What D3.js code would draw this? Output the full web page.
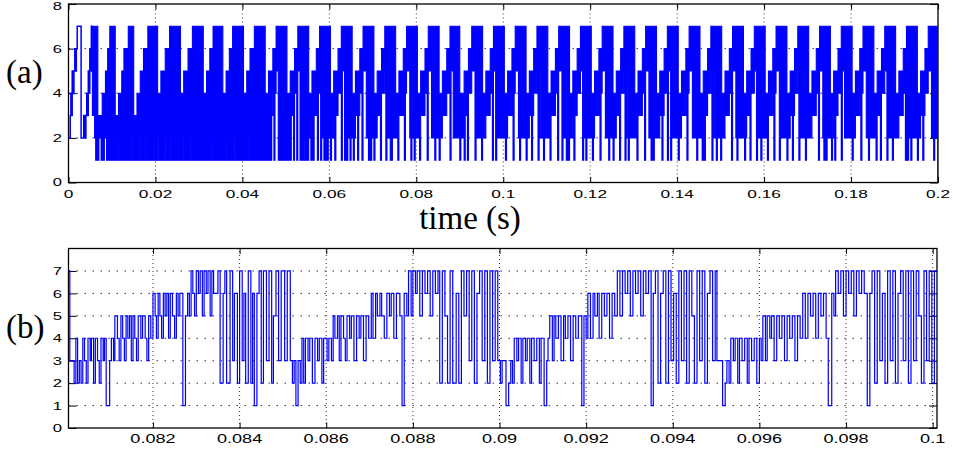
<!doctype html>
<html>
<head>
<meta charset="utf-8">
<script src="https://cdn.jsdelivr.net/npm/d3@7"></script>
<style>
  body { margin: 0; background: #fff; }
  svg { display: block; }
  .tl { font-family: "Liberation Sans", Arial, sans-serif; fill: #000; }
  .tex { font-family: "Liberation Serif", "DejaVu Serif", serif; fill: #000; }
</style>
</head>
<body>
<svg width="953" height="453"></svg>
<script>

// ---------- tick values ----------
var topXTicks = [0, 0.02, 0.04, 0.06, 0.08, 0.1, 0.12, 0.14, 0.16, 0.18, 0.2];
var topYTicks = [0, 2, 4, 6, 8];
var botXTicks = [0.082, 0.084, 0.086, 0.088, 0.09, 0.092, 0.094, 0.096, 0.098, 0.1];
var botYTicks = [0, 1, 2, 3, 4, 5, 6, 7];

// ---------- panel (a) ----------
// start-up, step signal [ms, level]
var topStart = [[0,2],[0.4,3],[0.55,4],[0.7,3],[0.85,5],[1.05,4],[1.25,5],[1.45,6],[1.65,5],[1.8,6],
  [2.0,7],[2.9,2],[3.5,3],[3.85,2],[4.0,3],[4.2,4],[4.4,3],[4.55,5],[4.75,4],[4.9,6],[5.1,5],[5.25,7],[5.5,7]];
// after start-up the trace is too dense to follow; read as upper / lower level
// per 5 ms period, one digit per 0.25 ms (0 = nothing drawn)
var topHi = [
  "00000000000000000000", "00777773333444556677", "77733344455666677777", "33344455566667777777",
  "77444555566667777777", "77744455556666777777", "77774445556667777777", "77444555666777777777",
  "74445556666777777777", "74445555666777777777", "74445555666777777777", "74445555666777777777",
  "74445555666777777777", "74445555666777777777", "74445555666777777777", "74445555666777777777",
  "74445555666777777777", "74445555666777777777", "44445555666777777777", "74445555666777777777",
  "74445555666777777777", "74445555666777777777", "74445555666777777777", "74445555666777777777",
  "74445555666777777777", "74445555666777777777", "74445555666777777777", "74445555666777777777",
  "74445555666777777777", "74445555666777777777", "74445555666777777777", "74445555666777777777",
  "74445555666777777777", "74445555666777777777", "74445555666777777777", "74445555666777777777",
  "74445555666777777777", "74445555666777777777", "74445555666777777777", "74445555666777777777"
];
var topLo = [
  "00000000000000000000", "00332121221212212121", "21212112121211212112", "12112112111211211121",
  "11121111211111211111", "11211121111211112111", "11111211111121111121", "11112111111112111111",
  "11111121111121111111", "12121313414551212121", "21121331441551212112", "12213133414515211212",
  "21223133444155121221", "22123313441555221212", "21223331444515221122", "22213333414555212212",
  "22213333441555222122", "21223333444155222222", "12221331444555122222", "12223333441551222222",
  "22123333414555212222", "21223313444515222122", "22213333441555122212", "12223133444551221222",
  "22123333414555222122", "21223331444515212222", "22213333441555221212", "22223313444155122222",
  "21223333414555222212", "22213133444515221222", "12223333441555212222", "22123331444551222122",
  "22213333414555122222", "21223313444515222212", "22223333441555212122", "22123133444155222222",
  "21223333414555221222", "22213331444551222212", "22223333441515212222", "21223313444555221222"
];
var topTail = [[199.9,2],[200,0]];

// ---------- panel (b) ----------
// step signal [ms, level]
var botSteps = [
  [80.00,7],[80.08,3],[80.18,2],[80.22,4],[80.26,2],[80.30,3],[80.34,2],[80.38,4],[80.42,3],[80.46,2],
  [80.50,4],[80.55,3],[80.58,4],[80.63,2],[80.67,4],[80.72,3],[80.76,2],[80.80,4],[80.85,3],[80.88,4],
  [80.92,1],[81.00,3],[81.04,4],[81.09,3],[81.12,5],[81.18,4],[81.22,3],[81.26,5],[81.30,4],[81.34,3],
  [81.38,5],[81.42,4],[81.46,5],[81.50,3],[81.54,5],[81.58,4],[81.62,3],[81.66,5],[81.72,4],[81.76,5],
  [81.82,4],[81.86,3],[81.90,5],[81.95,4],[82.00,6],[82.05,5],[82.08,4],[82.12,6],[82.16,5],[82.20,4],
  [82.24,6],[82.28,5],[82.32,6],[82.36,4],[82.40,6],[82.45,5],[82.50,4],[82.54,6],[82.58,5],[82.62,6],
  [82.69,1],[82.75,5],[82.80,6],[82.84,5],[82.88,7],[82.92,6],[82.96,5],[83.00,7],[83.05,6],[83.09,7],
  [83.14,5],[83.18,7],[83.23,6],[83.27,7],[83.32,5],[83.36,7],[83.40,6],[83.50,7],[83.55,2],[83.62,6],
  [83.66,7],[83.70,2],[83.78,7],[83.84,3],[83.88,6],[83.95,2],[84.00,7],[84.06,3],[84.10,6],[84.14,2],
  [84.20,7],[84.26,2],[84.30,6],[84.34,1],[84.40,6],[84.45,7],[84.50,2],[84.55,7],[84.62,3],[84.68,7],
  [84.74,2],[84.78,5],[84.84,7],[84.90,3],[84.96,7],[85.04,3],[85.10,7],[85.17,3],[85.22,2],[85.26,3],
  [85.30,1],[85.35,3],[85.40,2],[85.44,4],[85.48,2],[85.52,4],[85.58,3],[85.62,4],[85.68,2],[85.74,4],
  [85.80,3],[85.84,4],[85.90,2],[85.94,4],[86.02,3],[86.06,4],[86.12,3],[86.16,5],[86.20,4],[86.26,5],
  [86.30,3],[86.34,5],[86.40,4],[86.44,3],[86.48,5],[86.54,4],[86.58,5],[86.64,3],[86.70,5],[86.76,4],
  [86.80,5],[86.86,3],[86.92,5],[86.98,4],[87.04,6],[87.08,4],[87.14,6],[87.18,5],[87.24,6],[87.28,5],
  [87.34,4],[87.40,6],[87.46,5],[87.50,6],[87.56,4],[87.62,6],[87.70,5],[87.75,1],[87.80,6],[87.86,5],
  [87.90,7],[87.96,5],[88.00,7],[88.06,6],[88.10,7],[88.16,5],[88.22,7],[88.28,6],[88.34,7],[88.40,5],
  [88.46,7],[88.52,6],[88.58,7],[88.62,2],[88.68,7],[88.74,5],[88.80,2],[88.86,7],[88.92,2],[89.00,6],
  [89.06,2],[89.12,7],[89.18,5],[89.24,7],[89.30,3],[89.36,7],[89.42,2],[89.48,6],[89.54,7],[89.60,3],
  [89.66,7],[89.72,2],[89.78,7],[89.84,3],[89.90,7],[89.96,3],[90.02,2],[90.06,3],[90.15,1],[90.21,2],
  [90.26,3],[90.30,2],[90.34,4],[90.40,3],[90.44,4],[90.50,2],[90.54,4],[90.60,3],[90.64,4],[90.70,2],
  [90.74,4],[90.80,3],[90.86,4],[90.92,2],[90.96,4],[91.03,1],[91.09,3],[91.12,4],[91.16,5],[91.22,3],
  [91.26,5],[91.30,4],[91.36,5],[91.42,3],[91.48,5],[91.52,4],[91.58,5],[91.64,3],[91.70,5],[91.76,4],
  [91.82,5],[91.90,1],[91.95,5],[92.00,4],[92.04,6],[92.10,4],[92.16,6],[92.20,5],[92.26,6],[92.30,4],
  [92.36,6],[92.42,5],[92.48,6],[92.54,4],[92.60,6],[92.66,5],[92.72,7],[92.78,5],[92.84,7],[92.90,6],
  [92.96,7],[93.02,5],[93.08,7],[93.14,6],[93.20,7],[93.26,5],[93.32,7],[93.38,6],[93.44,7],[93.50,1],
  [93.55,6],[93.60,7],[93.66,2],[93.72,6],[93.78,7],[93.84,2],[93.90,7],[93.96,3],[94.02,6],[94.08,2],
  [94.14,7],[94.20,3],[94.26,7],[94.32,2],[94.38,7],[94.44,5],[94.50,2],[94.56,7],[94.62,3],[94.68,7],
  [94.74,2],[94.80,6],[94.86,7],[94.92,3],[94.98,7],[95.02,3],[95.15,1],[95.21,2],[95.25,3],[95.30,2],
  [95.34,4],[95.40,3],[95.44,4],[95.50,2],[95.54,4],[95.60,3],[95.66,4],[95.72,2],[95.76,4],[95.82,3],
  [95.88,4],[95.94,2],[96.00,4],[96.04,3],[96.08,5],[96.14,3],[96.18,5],[96.24,4],[96.28,5],[96.34,3],
  [96.40,5],[96.46,4],[96.52,5],[96.58,3],[96.64,5],[96.70,4],[96.76,5],[96.82,3],[96.88,5],[96.94,4],
  [97.00,6],[97.06,4],[97.12,6],[97.18,5],[97.24,6],[97.30,4],[97.36,6],[97.42,5],[97.48,6],[97.54,4],
  [97.59,1],[97.67,6],[97.72,5],[97.76,7],[97.82,6],[97.88,7],[97.94,5],[98.00,7],[98.06,6],[98.12,7],
  [98.18,5],[98.24,7],[98.30,6],[98.36,7],[98.42,6],[98.49,1],[98.55,6],[98.60,7],[98.66,2],[98.72,7],
  [98.78,3],[98.84,6],[98.90,2],[98.96,7],[99.02,3],[99.08,7],[99.14,2],[99.20,6],[99.26,7],[99.32,3],
  [99.38,7],[99.44,2],[99.50,7],[99.56,3],[99.62,7],[99.68,5],[99.74,2],[99.80,7],[99.86,3],[99.92,7],
  [99.98,2],[100.04,7],[100.10,7]
];

var blue = "#0000ff";
var svg = d3.select("svg");

var xA = d3.scaleLinear().domain([0, 0.2]).range([68.5, 938]);
var yA = d3.scaleLinear().domain([0, 8]).range([182.5, 4]);
var xB = d3.scaleLinear().domain([0.08005, 0.1001]).range([68.5, 937]);
var yB = d3.scaleLinear().domain([0, 8]).range([428, 248.5]);

function fmt(d) { return String(+d.toFixed(3)); }

// dotted grid
function axesBox(name, x, y, xTicks, yTicks) {
  var g = svg.append("g").attr("id", name);
  var xr = x.range(), yr = y.range();

  g.selectAll("line.vg").data(xTicks.filter(function(d) { return x(d) > xr[0] + 2 && x(d) < xr[1] - 2; }))
    .enter().append("line").attr("class", "vg")
    .attr("x1", function(d) { return x(d); }).attr("x2", function(d) { return x(d); })
    .attr("y1", yr[0]).attr("y2", yr[1])
    .attr("stroke", "#333").attr("stroke-width", 1).attr("stroke-dasharray", "1,3");
  g.selectAll("line.hg").data(yTicks.filter(function(d) { return y(d) < yr[0] - 2 && y(d) > yr[1] + 2; }))
    .enter().append("line").attr("class", "hg")
    .attr("x1", xr[0]).attr("x2", xr[1])
    .attr("y1", function(d) { return y(d); }).attr("y2", function(d) { return y(d); })
    .attr("stroke", "#333").attr("stroke-width", 1).attr("stroke-dasharray", "1.5,6.5");
  return g;
}

// inward ticks on all four sides, then the frame
function ticksBox(g, x, y, xTicks, yTicks) {
  var xr = x.range(), yr = y.range();
  var ax = [
    d3.axisBottom(x).tickValues(xTicks).tickSize(-5.5).tickSizeOuter(0).tickFormat(""),
    d3.axisTop(x).tickValues(xTicks).tickSize(-5.5).tickSizeOuter(0).tickFormat(""),
    d3.axisLeft(y).tickValues(yTicks).tickSize(-8).tickSizeOuter(0).tickFormat(""),
    d3.axisRight(y).tickValues(yTicks).tickSize(-8).tickSizeOuter(0).tickFormat("")
  ];
  var pos = [[0, yr[0]], [0, yr[1]], [xr[0], 0], [xr[1], 0]];
  ax.forEach(function(a, i) {
    var s = g.append("g").attr("transform", "translate(" + pos[i][0] + "," + pos[i][1] + ")").call(a);
    s.select(".domain").remove();
    s.selectAll("line").attr("stroke", "#000").attr("stroke-width", 1);
  });
  g.append("rect").attr("x", xr[0]).attr("y", yr[1])
    .attr("width", xr[1] - xr[0]).attr("height", yr[0] - yr[1])
    .attr("fill", "none").attr("stroke", "#000").attr("stroke-width", 1.3);
}

function labels(g, x, y, xTicks, yTicks, xBase, xSize, xStretch, ySize, yStretch) {
  g.selectAll("text.xl").data(xTicks).enter().append("text").attr("class", "tl xl")
    .attr("transform", function(d) { return "translate(" + x(d) + "," + xBase + ") scale(" + xStretch + ",1)"; })
    .attr("text-anchor", "middle").attr("font-size", xSize).text(fmt);
  g.selectAll("text.yl").data(yTicks).enter().append("text").attr("class", "tl yl")
    .attr("transform", function(d) {
      var base = Math.max(y(d) + ySize * 0.36, 9.5);
      return "translate(62," + base + ") scale(" + yStretch + ",1)";
    })
    .attr("text-anchor", "end").attr("font-size", ySize).text(fmt);
}

// ---------- (a) ----------
var gA = axesBox("panelA", xA, yA, topXTicks, topYTicks);
svg.append("clipPath").attr("id", "clipA").append("rect")
  .attr("x", 68.5).attr("y", 4).attr("width", 938 - 68.5).attr("height", 182.5 - 4);

var bins = [];
topHi.forEach(function(s, p) {
  for (var j = 0; j < s.length; j++) {
    bins.push({ms: p * 5 + j * 0.25, hi: +s[j], lo: +topLo[p][j]});
  }
});
bins.push({ms: 200, hi: bins[bins.length - 1].hi, lo: bins[bins.length - 1].lo});

var bandA = d3.area()
  .defined(function(d) { return d.hi > 0; })
  .x(function(d) { return xA(d.ms / 1000); })
  .y0(function(d) { return yA(d.lo); })
  .y1(function(d) { return yA(d.hi); })
  .curve(d3.curveStepAfter);

var stepA = d3.line()
  .x(function(d) { return xA(d[0] / 1000); })
  .y(function(d) { return yA(d[1]); })
  .curve(d3.curveStepAfter);

var plotA = svg.append("g").attr("clip-path", "url(#clipA)");
plotA.append("path").attr("d", bandA(bins))
  .attr("fill", blue).attr("stroke", blue).attr("stroke-width", 1.1).attr("stroke-linejoin", "miter");
plotA.append("path").attr("d", stepA(topStart))
  .attr("fill", "none").attr("stroke", blue).attr("stroke-width", 1.5);
plotA.append("path").attr("d", stepA(topTail))
  .attr("fill", "none").attr("stroke", blue).attr("stroke-width", 1.5);

ticksBox(gA, xA, yA, topXTicks, topYTicks);
labels(gA, xA, yA, topXTicks, topYTicks, 198, 11.5, 1.5, 11, 1.5);

// ---------- (b) ----------
var gB = axesBox("panelB", xB, yB, botXTicks, botYTicks);
svg.append("clipPath").attr("id", "clipB").append("rect")
  .attr("x", 68.5).attr("y", 248.5).attr("width", 937 - 68.5).attr("height", 428 - 248.5);

var stepB = d3.line()
  .x(function(d) { return xB(d[0] / 1000); })
  .y(function(d) { return yB(d[1]); })
  .curve(d3.curveStepAfter);

svg.append("g").attr("clip-path", "url(#clipB)")
  .append("path").attr("d", stepB(botSteps))
  .attr("fill", "none").attr("stroke", blue).attr("stroke-width", 1.2);

ticksBox(gB, xB, yB, botXTicks, botYTicks);
labels(gB, xB, yB, botXTicks, botYTicks, 443, 12.5, 1.45, 11.5, 1.45);

// ---------- text ----------
svg.append("text").attr("class", "tex").attr("x", 6).attr("y", 83).attr("font-size", 33).text("(a)");
svg.append("text").attr("class", "tex").attr("x", 6).attr("y", 338).attr("font-size", 33).text("(b)");
svg.append("text").attr("class", "tex").attr("x", 470).attr("y", 229)
  .attr("text-anchor", "middle").attr("font-size", 33).text("time (s)");

</script>
</body>
</html>
